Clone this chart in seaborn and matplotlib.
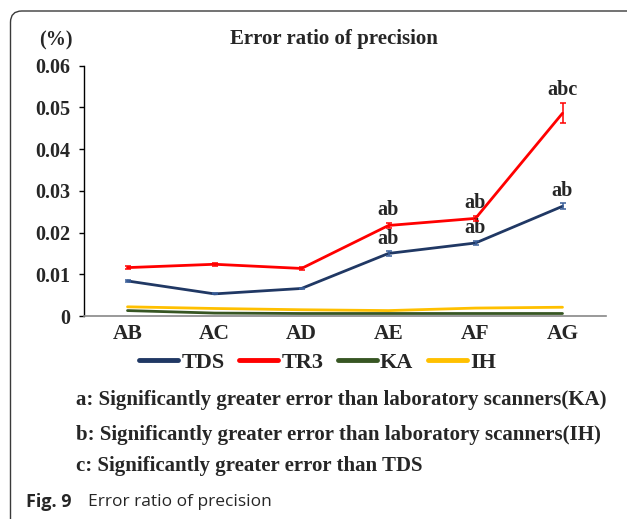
import numpy as np
import pandas as pd
import seaborn as sns
from matplotlib import pyplot as plt
from matplotlib.patches import FancyBboxPatch
from matplotlib.ticker import FuncFormatter

# groups on the x axis
groups = ['AB', 'AC', 'AD', 'AE', 'AF', 'AG']

# mean error ratio (%) per scanner
tds = [0.0084, 0.0053, 0.0066, 0.0150, 0.0175, 0.0263]
tr3 = [0.0116, 0.0124, 0.0114, 0.0217, 0.0234, 0.0486]
ka = [0.0013, 0.0007, 0.0006, 0.0006, 0.0006, 0.0006]
ih = [0.0022, 0.0018, 0.0015, 0.0013, 0.0019, 0.0021]

# error bar half-widths
tds_err = [0.0002, 0.0001, 0.0001, 0.0005, 0.0005, 0.0007]
tr3_err = [0.0004, 0.0004, 0.0003, 0.0006, 0.0006, 0.0024]

# significance letters
tds_sig = ['', '', '', 'ab', 'ab', 'ab']
tr3_sig = ['', '', '', 'ab', 'ab', 'abc']

scanners = ['TDS', 'TR3', 'KA', 'IH']
colors = ['#203864', '#FF0000', '#375623', '#FFC000']

notes = [
    'a: Significantly greater error than laboratory scanners(KA)',
    'b: Significantly greater error than laboratory scanners(IH)',
    'c: Significantly greater error than TDS',
]

df = pd.DataFrame({
    'group': groups * 4,
    'pos': list(range(len(groups))) * 4,
    'value': tds + tr3 + ka + ih,
    'scanner': np.repeat(scanners, len(groups)),
})

sns.set_style('white')
plt.rcParams['font.family'] = ['Liberation Serif', 'DejaVu Serif']
plt.rcParams['font.weight'] = 'bold'

W, H = 627, 519
fig = plt.figure(figsize=(W / 100, H / 100), dpi=100)
ax = fig.add_axes([84 / W, 1 - 316 / H, (606 - 84) / W, (316 - 65.7) / H])

sns.lineplot(data=df, x='pos', y='value', hue='scanner', hue_order=scanners,
             palette=colors, linewidth=2.0, ax=ax, legend=False)

ax.errorbar(range(len(groups)), tr3, yerr=tr3_err, fmt='none',
            ecolor='#FF0000', elinewidth=1.1, capsize=2.5, capthick=1.1, zorder=5)
ax.errorbar(range(len(groups)), tds, yerr=tds_err, fmt='none',
            ecolor='#3A5F9A', elinewidth=1.1, capsize=2.5, capthick=1.1, zorder=5)

for vals, errs, sig in [(tr3, tr3_err, tr3_sig), (tds, tds_err, tds_sig)]:
    for i, (v, e, s) in enumerate(zip(vals, errs, sig)):
        if s:
            ax.annotate(s, xy=(i, v + e), xytext=(0, 2), textcoords='offset points',
                        ha='center', va='bottom', fontsize=14.5, fontweight='bold')

ax.set_xlim(-0.5, 5.5)
ax.set_ylim(0, 0.06)
ax.set_xticks(range(len(groups)))
ax.set_xticklabels(groups)
ax.set_yticks(np.arange(0, 0.061, 0.01))
ax.yaxis.set_major_formatter(FuncFormatter(lambda v, p: '0' if abs(v) < 1e-9 else f'{v:.2f}'))
ax.set_xlabel('')
ax.set_ylabel('')
ax.tick_params(axis='y', length=3.6, width=1, color='black', pad=6, labelsize=14.5, direction='out', left=True)
ax.tick_params(axis='x', length=0, pad=6, labelsize=15.5)
for lab in ax.get_xticklabels() + ax.get_yticklabels():
    lab.set_fontweight('bold')

sns.despine(ax=ax)
ax.spines['left'].set_color('black')
ax.spines['left'].set_linewidth(1)
ax.spines['bottom'].set_color('#888888')
ax.spines['bottom'].set_linewidth(1.2)

handles = [plt.Line2D([], [], color=c, lw=3.5, solid_capstyle='round') for c in colors]
fig.legend(handles, scanners, loc='center', bbox_to_anchor=(317.5 / W, 1 - 362.7 / H),
           ncol=4, frameon=False, handlelength=1.75, handletextpad=0.15,
           columnspacing=0.65, prop={'size': 16, 'weight': 'bold'})

fig.text(334 / W, 1 - 39 / H, 'Error ratio of precision', ha='center', va='center',
         fontsize=15, fontweight='bold')
fig.text(56 / W, 1 - 40.7 / H, '(%)', ha='center', va='center', fontsize=14.5, fontweight='bold')

for note, yy in zip(notes, [400, 435, 466]):
    fig.text(76 / W, 1 - yy / H, note, ha='left', va='center', fontsize=15, fontweight='bold')

fig.text(26 / W, 1 - 501.7 / H, 'Fig. 9', ha='left', va='center', fontsize=13,
         fontweight='bold', family=['Open Sans', 'DejaVu Sans'])
fig.text(88 / W, 1 - 501.7 / H, 'Error ratio of precision', ha='left', va='center', fontsize=12.5,
         fontweight='normal', family=['Open Sans', 'DejaVu Sans'])

box = FancyBboxPatch((10.5 / W, -12 / H), 640 / W, (519 + 12 - 11) / H,
                     boxstyle='round,pad=0,rounding_size=0.018', transform=fig.transFigure,
                     fill=False, edgecolor='#3a3a3a', linewidth=1.0, clip_on=False,
                     mutation_aspect=W / H)
fig.patches.append(box)

fig.savefig('out.png', dpi=100)
plt.close(fig)
